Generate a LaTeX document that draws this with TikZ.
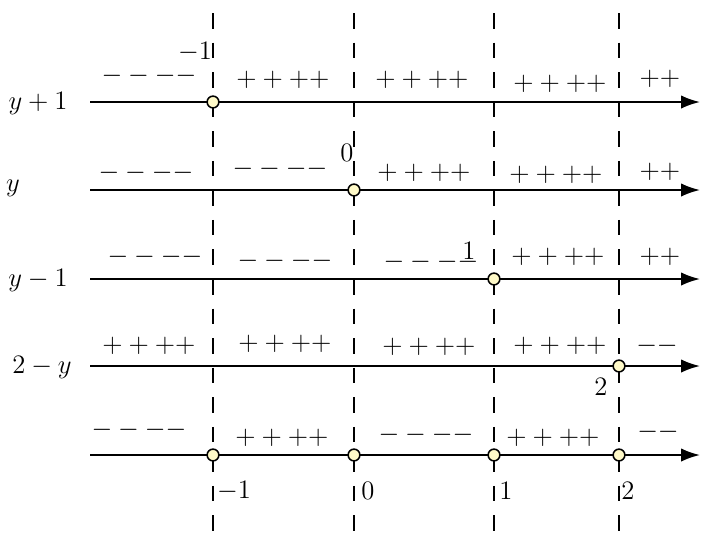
\documentclass[tikz,border=0pt]{standalone}
\usetikzlibrary{arrows.meta}
\definecolor{dotfill}{RGB}{255,250,200}
\begin{document}
\begin{tikzpicture}[x=0.45pt,y=-0.45pt,
  axisline/.style={line width=0.9pt,-{Latex[length=8.5pt,width=6pt]}},
  guide/.style={line width=0.9pt,dash pattern=on 7pt off 6.3pt},
  dot/.style={circle,draw,line width=0.7pt,fill=dotfill,inner sep=0pt,minimum size=5.3pt},
  sgn/.style={font=\large,inner sep=0pt},
  fn/.style={font=\fontsize{11.5}{13}\selectfont,inner sep=0pt},
  ptlab/.style={font=\large,inner sep=0pt}]
\useasboundingbox (0,0) rectangle (702,537);
% vertical dashed guides
\foreach \i/\x in {1/213,2/354,3/494,4/619}{
  \coordinate (vt\i) at (\x,13);
  \coordinate (vb\i) at (\x,537);
  \draw[guide] (vt\i) -- (vb\i);
}
% horizontal axes
\foreach \j/\y in {1/102,2/190,3/279,4/366,5/455}{
  \coordinate (hs\j) at (90,\y);
  \coordinate (he\j) at (700,\y);
  \draw[axisline] (hs\j) -- (he\j);
}
% dots
\node[dot] (d1) at (213,102) {};
\node[dot] (d2) at (354,190) {};
\node[dot] (d3) at (494,279) {};
\node[dot] (d4) at (619,366) {};
\node[dot] (e1) at (213,455) {};
\node[dot] (e2) at (354,455) {};
\node[dot] (e3) at (494,455) {};
\node[dot] (e4) at (619,455) {};
% function labels
\node[fn] (f1) at (38,103) {$y+1$};
\node[fn] (f2) at (13,188) {$y$};
\node[fn] (f3) at (38,280) {$y-1$};
\node[fn] (f4) at (42,367) {$2-y$};
% point labels
\node[ptlab] (l1) at (195,52) {$-1$};
\node[ptlab] (l2) at (347,153) {$0$};
\node[ptlab] (l3) at (469,251) {$1$};
\node[ptlab] (l4) at (601,387) {$2$};
\node[ptlab] (b1) at (234,491) {$-1$};
\node[ptlab] (b2) at (368,491) {$0$};
\node[ptlab] (b3) at (506,491) {$1$};
\node[ptlab] (b4) at (628,491) {$2$};
% signs row 1
\node[sgn] (s11) at (149,76) {$----$};
\node[sgn] (s12) at (283,80) {$++++$};
\node[sgn] (s13) at (422,80) {$++++$};
\node[sgn] (s14) at (560,84) {$++++$};
\node[sgn] (s15) at (660,79) {$++$};
% row 2
\node[sgn] (s21) at (146,173) {$----$};
\node[sgn] (s22) at (280,169) {$----$};
\node[sgn] (s23) at (424,173) {$++++$};
\node[sgn] (s24) at (556,175) {$++++$};
\node[sgn] (s25) at (660,172) {$++$};
% row 3
\node[sgn] (s31) at (155,257) {$----$};
\node[sgn] (s32) at (285,261) {$----$};
\node[sgn] (s33) at (431,262) {$----$};
\node[sgn] (s34) at (558,257) {$++++$};
\node[sgn] (s35) at (660,257) {$++$};
% row 4
\node[sgn] (s41) at (149,346) {$++++$};
\node[sgn] (s42) at (285,344) {$++++$};
\node[sgn] (s43) at (429,347) {$++++$};
\node[sgn] (s44) at (560,346) {$++++$};
\node[sgn] (s45) at (657,346) {$--$};
% row 5
\node[sgn] (s51) at (139,430) {$----$};
\node[sgn] (s52) at (282,438) {$++++$};
\node[sgn] (s53) at (426,435) {$----$};
\node[sgn] (s54) at (553,438) {$++++$};
\node[sgn] (s55) at (658,432) {$--$};
\end{tikzpicture}
\end{document}
